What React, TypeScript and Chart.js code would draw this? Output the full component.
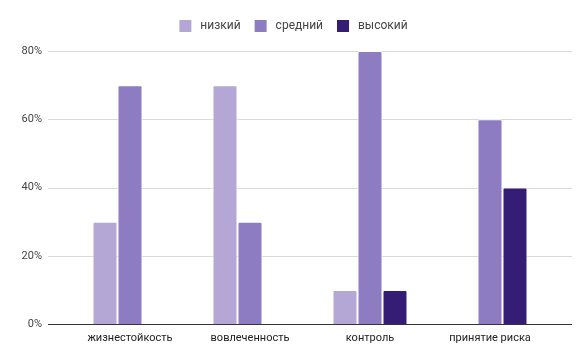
import React, { useEffect, useRef } from "react";
import { Chart, registerables } from "chart.js";

Chart.register(...registerables);

const categories = ["жизнестойкость", "вовлеченность", "контроль", "принятие риска"];
const lowValues = [30, 70, 10, 0];
const midValues = [70, 30, 80, 60];
const highValues = [0, 0, 10, 40];
const seriesNames = ["низкий", "средний", "высокий"];
const yTicks = [0, 20, 40, 60, 80];

const legendSpacer = {
  id: "legendSpacer",
  beforeInit(chart: any) {
    const legend = chart.legend;
    if (!legend) return;
    const orig = legend.fit;
    legend.fit = function () {
      orig.call(this);
      this.height += 9;
    };
  },
};

const gridPlugin = {
  id: "extGrid",
  beforeDatasetsDraw(chart: any) {
    const { ctx, chartArea, scales } = chart;
    const y = scales.y;
    ctx.save();
    ctx.lineWidth = 1;
    ctx.strokeStyle = "#d9d9d9";
    yTicks.forEach((t) => {
      if (t === 0) return;
      const py = Math.round(y.getPixelForValue(t)) + 0.5;
      ctx.beginPath();
      ctx.moveTo(chartArea.left - 22, py);
      ctx.lineTo(chartArea.right + 22, py);
      ctx.stroke();
    });
    ctx.restore();
  },
  afterDatasetsDraw(chart: any) {
    const { ctx, chartArea, scales } = chart;
    const y = scales.y;
    ctx.save();
    ctx.lineWidth = 1;
    ctx.strokeStyle = "#333333";
    const py = Math.round(y.getPixelForValue(0)) + 0.5;
    ctx.beginPath();
    ctx.moveTo(chartArea.left - 22, py);
    ctx.lineTo(chartArea.right + 22, py);
    ctx.stroke();
    ctx.restore();
  },
};

export default function App() {
  const ref = useRef<HTMLCanvasElement>(null);
  useEffect(() => {
    document.body.style.margin = "0";
    const common = {
      borderColor: "#ffffff",
      borderWidth: { top: 1, left: 1, right: 1, bottom: 0 },
      borderRadius: 2,
      borderSkipped: "start",
      barPercentage: 1,
      categoryPercentage: 0.625,
    };
    const chart = new Chart(ref.current!, {
      type: "bar",
      data: {
        labels: categories,
        datasets: [
          { label: seriesNames[0], data: lowValues, backgroundColor: "#b4a7d6", ...common },
          { label: seriesNames[1], data: midValues, backgroundColor: "#8e7cc3", ...common },
          { label: seriesNames[2], data: highValues, backgroundColor: "#351c75", ...common },
        ],
      } as any,
      options: {
        animation: false,
        responsive: false,
        maintainAspectRatio: false,
        layout: { padding: { left: 0, right: 0, top: 6, bottom: 0 } },
        plugins: {
          legend: {
            position: "top",
            labels: {
              boxWidth: 12,
              boxHeight: 12,
              padding: 14,
              color: "#444444",
              font: { family: "Roboto", size: 12 },
              generateLabels(chart: any) {
                const items = Chart.defaults.plugins.legend.labels.generateLabels(chart);
                return items.map((it: any) => ({ ...it, text: " " + it.text, lineWidth: 0 }));
              },
            },
          },
          tooltip: { enabled: false },
        },
        scales: {
          x: {
            offset: true,
            afterFit(scale: any) {
              scale.height = 39;
            },
            grid: { display: false, drawTicks: false },
            border: { display: false },
            ticks: {
              color: "#222222",
              font: { family: "Roboto", size: 11 },
              padding: 8,
              maxRotation: 0,
            },
          },
          y: {
            min: 0,
            max: 80,
            afterFit(scale: any) {
              scale.width = 70;
            },
            grid: { display: false, drawTicks: false },
            border: { display: false },
            ticks: {
              stepSize: 20,
              padding: 28,
              color: "#444444",
              font: { family: "Roboto", size: 11 },
              callback: (v: any) => v + "%",
            },
          },
          yRight: {
            position: "right",
            display: true,
            min: 0,
            max: 80,
            afterFit(scale: any) {
              scale.width = 37;
            },
            grid: { display: false, drawTicks: false },
            border: { display: false },
            ticks: { display: false },
          },
        },
      } as any,
      plugins: [legendSpacer, gridPlugin],
    });
    return () => chart.destroy();
  }, []);
  return <canvas ref={ref} width={587} height={363} style={{ display: "block" }} />;
}
